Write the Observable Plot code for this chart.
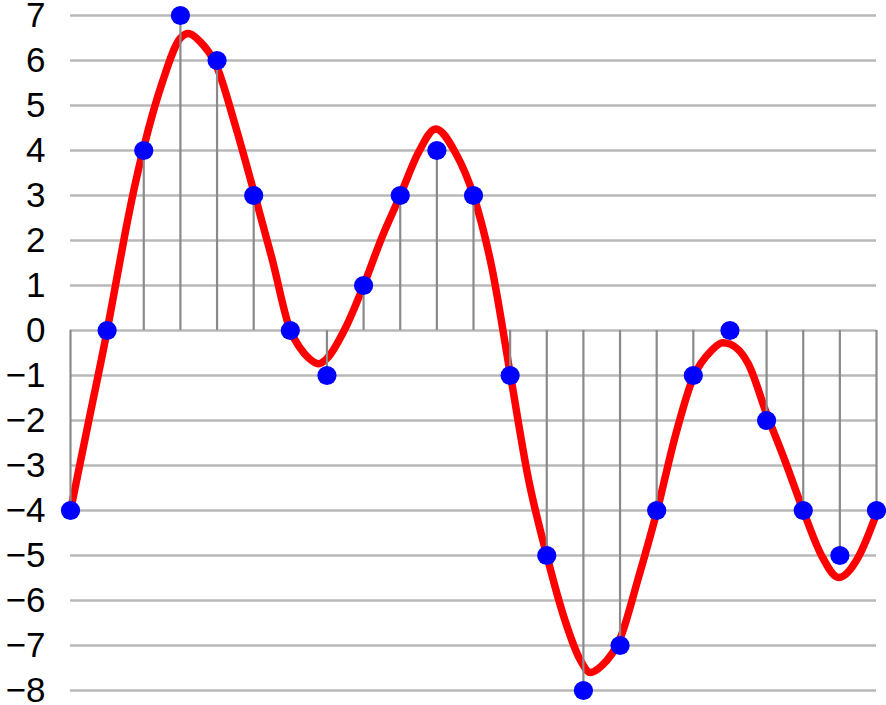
<!DOCTYPE html>
<html>
<head>
<meta charset="utf-8">
<script src="https://cdn.jsdelivr.net/npm/d3@7"></script>
<script src="https://cdn.jsdelivr.net/npm/@observablehq/plot@0.6"></script>
<style>
  html, body { margin: 0; padding: 0; background: #fff; }
</style>
</head>
<body>
<div id="chart"></div>
<script>
// Sample index and quantized sample values (blue dots / stems)
const sampleX = d3.range(0, 23);
const sampleY = [-4, 0, 4, 7, 6, 3, 0, -1, 1, 3, 4, 3, -1, -5, -8, -7, -4, -1, 0, -2, -4, -5, -4];

// Continuous signal (red curve)
const curveT = [0, 0.5, 1, 1.25, 1.5, 1.75, 2, 2.5, 3, 3.22, 3.5, 4, 4.5, 5, 5.5, 6, 6.25, 6.5, 6.78, 7, 7.5, 8, 8.5, 9, 9.5, 9.97, 10.5, 11, 11.5, 12, 12.5, 13, 13.5, 13.9, 14.19, 14.5, 15, 15.5, 16, 16.5, 17, 17.5, 17.8, 18, 18.5, 19, 19.5, 20, 20.5, 20.97, 21.5, 22];
const curveV = [-4.0, -2.0, 0.0, 1.1, 2.2, 3.2, 4.07, 5.5, 6.5, 6.6, 6.45, 5.85, 4.55, 3.1, 1.6, 0.0, -0.37, -0.61, -0.74, -0.62, 0.05, 1.0, 2.07, 3.0, 3.96, 4.48, 3.96, 3.0, 1.4, -0.95, -3.3, -5.0, -6.45, -7.3, -7.6, -7.45, -6.85, -5.5, -4.04, -2.37, -1.04, -0.44, -0.27, -0.3, -0.74, -1.85, -2.89, -4.0, -5.0, -5.49, -5.04, -4.07];

// Gridline / tick values
const yTicks = d3.range(-8, 8);

const samples = sampleX.map((x, i) => ({x, y: sampleY[i]}));
const curve = curveT.map((t, i) => ({t, v: curveV[i]}));

const chart = Plot.plot({
  width: 886,
  height: 705,
  marginLeft: 70,
  marginRight: 10,
  marginTop: 15,
  marginBottom: 15,
  style: {fontFamily: "Liberation Sans, Arial, sans-serif", fontSize: "35px", background: "#fff", overflow: "visible"},
  x: {domain: [0, 22], axis: null},
  y: {domain: [-8, 7]},
  marks: [
    Plot.ruleY(yTicks, {x1: 0, x2: 22, stroke: "#b8b8b8", strokeWidth: 2.6}),
    Plot.line(curve, {x: "t", y: "v", stroke: "#ff0000", strokeWidth: 7.5, curve: "monotone-x", strokeLinejoin: "round"}),
    Plot.ruleX(samples, {x: "x", y1: 0, y2: "y", stroke: "#8a8a8a", strokeWidth: 2.2}),
    Plot.dot(samples, {x: "x", y: "y", r: 9.6, fill: "#0000ff", stroke: "none"}),
    Plot.axisY(yTicks, {tickSize: 0, tickPadding: 25, fontSize: 35, fill: "#000", tickFormat: d => d < 0 ? "\u2212" + Math.abs(d) : String(d), label: null})
  ]
});
document.getElementById("chart").appendChild(chart);
</script>
</body>
</html>
